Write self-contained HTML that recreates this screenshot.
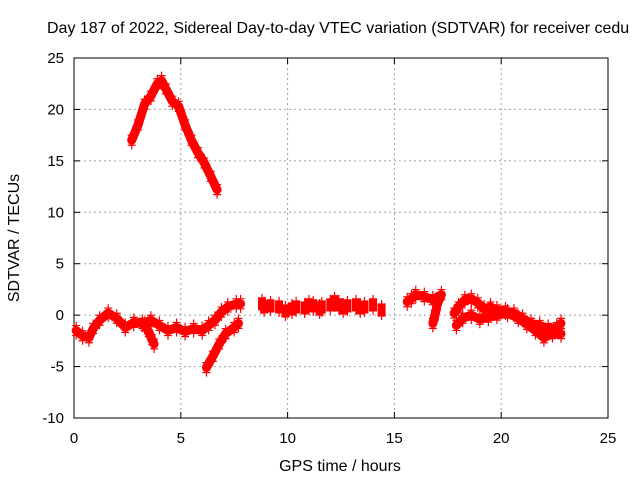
<!DOCTYPE html>
<html><head><meta charset="utf-8"><style>
body{margin:0;background:#fff}
svg{display:block;font-family:"Liberation Sans",sans-serif}
</style></head><body>
<svg id="chart" width="640" height="480">
<text x="47" y="33" font-size="16">Day 187 of 2022, Sidereal Day-to-day VTEC variation (SDTVAR) for receiver cedu</text>
<text x="340" y="471" font-size="16" text-anchor="middle">GPS time / hours</text>
<text transform="translate(19,238) rotate(-90)" font-size="16" text-anchor="middle">SDTVAR / TECUs</text>
<g id="grid"></g><g id="axes"></g><g id="marks"></g>
</svg>
<script>
const xTicks=[0,5,10,15,20,25];
const yTicks=[-10,-5,0,5,10,15,20,25];
const segArc=[[2.7,17],[3.0,18.5],[3.3,20.5],[3.6,21.3],[3.9,22.5],[4.1,22.8],[4.3,22],[4.6,20.8],[4.9,20.3],[5.2,18.5],[5.5,17],[5.8,15.8],[6.1,14.8],[6.4,13.5],[6.7,12.2]];
const segLow=[[0.1,-1.5],[0.4,-2],[0.7,-2.2],[0.9,-1.3],[1.2,-0.5],[1.6,0.2],[2.0,-0.3],[2.4,-1.2],[2.8,-0.7],[3.2,-0.8],[3.6,-0.5],[4.0,-1.0],[4.4,-1.5],[4.8,-1.2],[5.2,-1.6],[5.6,-1.3],[6.0,-1.5],[6.3,-1],[6.6,-0.5],[6.9,0.3],[7.2,0.8],[7.6,1.1],[7.8,1.1]];
const segDip=[[3.3,-1.0],[3.5,-1.6],[3.65,-2.4],[3.75,-2.8]];
const segRise=[[6.2,-5.1],[6.5,-4],[6.8,-2.8],[7.1,-1.8],[7.5,-1.2],[7.7,-0.8]];
const segMid=[[8.8,1.1],[8.9,0.8],[9.2,0.9],[9.6,0.8],[9.9,0.4],[10.2,0.6],[10.4,0.8],[10.8,0.7],[11.0,1.0],[11.2,0.9],[11.5,0.6],[11.6,0.8],[12,1.0],[12.2,1.3],[12.4,1.0],[12.6,0.7],[12.8,0.9],[13.2,1.0],[13.4,0.7],[13.6,0.8],[14,1.0],[14.4,0.5]];
const segE=[[15.6,1.3],[15.8,1.6],[16.0,2.0],[16.4,1.8],[16.8,1.5],[17.2,2.0],[17.0,1.0],[16.9,0],[16.8,-0.8]];
const segF=[[17.8,0.2],[18.0,0.8],[18.3,1.5],[18.6,1.6],[18.9,1.2],[19.2,0.6],[19.5,0.8],[19.8,0.5],[20.2,0.4],[20.6,0.2],[21.0,-0.3],[21.4,-0.8],[21.8,-1.0],[22.2,-1.3],[22.6,-1.2],[22.8,-0.8]];
const segG=[[17.9,-1.0],[18.2,-0.3],[18.6,0.0],[19.0,-0.4],[19.4,-0.2],[19.8,0.0],[20.3,0.2],[20.8,-0.3],[21.2,-0.9],[21.6,-1.5],[22.0,-2.2],[22.4,-1.8],[22.8,-1.8]];
const series=[segArc,segLow,segDip,segRise,segE,segF,segG];
const X0=74,X1=608,Y0=418,Y1=58;
const sx=v=>X0+(v-0)/(25-0)*(X1-X0);
const sy=v=>Y0-(v+10)/(35)*(Y0-Y1);
const NS='http://www.w3.org/2000/svg';
function mk(t,a,p){const e=document.createElementNS(NS,t);for(const k in a)e.setAttribute(k,a[k]);p.appendChild(e);return e;}
const grid=document.getElementById('grid'),axes=document.getElementById('axes'),marks=document.getElementById('marks');
xTicks.forEach(t=>{const x=sx(t);
 if(t>0&&t<25){const g=mk('line',{x1:x,x2:x,y1:Y1,y2:Y0,stroke:'#a0a0a0','stroke-dasharray':'2,3'},grid);}
 mk('line',{x1:x,x2:x,y1:Y0,y2:Y0-6,stroke:'#000'},axes);mk('line',{x1:x,x2:x,y1:Y1,y2:Y1+6,stroke:'#000'},axes);
 const l=mk('text',{x:x,y:Y0+25,'font-size':15,'text-anchor':'middle'},axes);l.textContent=t;
 });
yTicks.forEach(t=>{const y=sy(t);
 if(t>-10&&t<25){const g=mk('line',{x1:X0,x2:X1,y1:y,y2:y,stroke:'#a0a0a0','stroke-dasharray':'2,3'},grid);}
 mk('line',{x1:X0,x2:X0+6,y1:y,y2:y,stroke:'#000'},axes);mk('line',{x1:X1,x2:X1-6,y1:y,y2:y,stroke:'#000'},axes);
 const l=mk('text',{x:X0-10,y:y+5,'font-size':15,'text-anchor':'end'},axes);l.textContent=t;
 });
const fr=mk('rect',{x:X0,y:Y1,width:X1-X0,height:Y0-Y1,fill:'none',stroke:'#000'},axes);

function plus(x,y,g){mk('path',{d:`M${x-4} ${y}h8M${x} ${y-4}v8`,stroke:'red','stroke-width':1.2},g);}
series.forEach(s=>{
 const g=mk('g',{},marks);
 
 
 mk('polyline',{points:s.map(p=>sx(p[0])+','+sy(p[1])).join(' '),fill:'none',stroke:'red','stroke-width':9,'stroke-linejoin':'round','stroke-linecap':'round'},g);
 s.forEach(p=>{plus(sx(p[0]),sy(p[1])-5,g);plus(sx(p[0]),sy(p[1])+5,g);});
});
const gm=mk('g',{},marks);


segMid.forEach(p=>{const x=sx(p[0]),y=sy(p[1]);mk('rect',{x:x-4,y:y-6,width:8,height:12,fill:'red'},gm);plus(x,y-6,gm);plus(x,y+6,gm);});
</script>
</body></html>
